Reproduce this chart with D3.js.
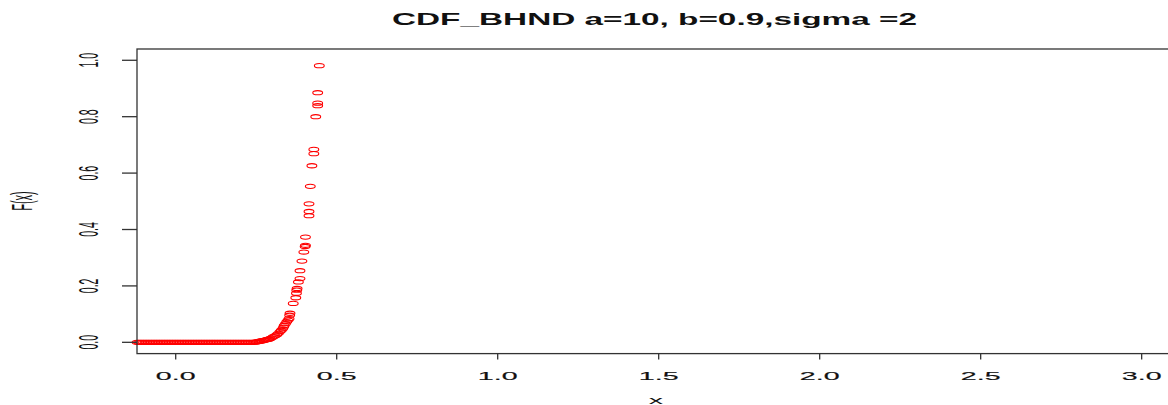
<!DOCTYPE html>
<html>
<head>
<meta charset="utf-8">
<script src="https://cdn.jsdelivr.net/npm/d3@7"></script>
<style>
  body { margin: 0; background: #fff; }
  text { font-family: "Liberation Sans", Arial, sans-serif; fill: #111; }
</style>
</head>
<body>
<svg id="chart" width="1168" height="405"></svg>
<script>
// values
const flatX = [-0.120, -0.115, -0.110, -0.105, -0.100, -0.095, -0.090, -0.085, -0.080,
  -0.075, -0.070, -0.065, -0.060, -0.055, -0.050, -0.045, -0.040, -0.035, -0.030,
  -0.025, -0.020, -0.015, -0.010, -0.005, 0.000, 0.005, 0.010, 0.015, 0.020, 0.025,
  0.030, 0.035, 0.040, 0.045, 0.050, 0.055, 0.060, 0.065, 0.070, 0.075, 0.080, 0.085,
  0.090, 0.095, 0.100, 0.105, 0.110, 0.115, 0.120, 0.125, 0.130, 0.135, 0.140, 0.145,
  0.150, 0.155, 0.160, 0.165, 0.170, 0.175, 0.180, 0.185, 0.190, 0.195, 0.200, 0.205,
  0.210, 0.215, 0.220, 0.225, 0.230, 0.235, 0.240];
const flatY = flatX.map(() => 0);

const curveX = [0.246, 0.250, 0.254, 0.258, 0.262, 0.266, 0.270, 0.274, 0.277, 0.281,
  0.285, 0.289, 0.293, 0.298, 0.303, 0.309, 0.314, 0.319, 0.324, 0.328, 0.332, 0.335,
  0.337, 0.341, 0.345, 0.349, 0.352, 0.354, 0.355, 0.365, 0.373, 0.375, 0.376, 0.377,
  0.381, 0.386, 0.386, 0.392, 0.398, 0.402, 0.403, 0.403, 0.414, 0.414, 0.414, 0.418,
  0.423, 0.429, 0.429, 0.435, 0.441, 0.441, 0.441, 0.446];
const curveY = [0.001, 0.001, 0.002, 0.003, 0.004, 0.005, 0.006, 0.007, 0.008, 0.009,
  0.010, 0.011, 0.013, 0.016, 0.020, 0.023, 0.027, 0.032, 0.038, 0.043, 0.048, 0.054,
  0.060, 0.066, 0.073, 0.079, 0.084, 0.096, 0.103, 0.138, 0.158, 0.174, 0.185, 0.191,
  0.214, 0.226, 0.254, 0.288, 0.320, 0.340, 0.344, 0.373, 0.449, 0.464, 0.491, 0.553,
  0.626, 0.669, 0.684, 0.800, 0.839, 0.848, 0.885, 0.981];

const xTicks = [0, 0.5, 1, 1.5, 2, 2.5, 3];
const yTicks = [0, 0.2, 0.4, 0.6, 0.8, 1.0];
const titleText = "CDF_BHND a=10, b=0.9,sigma =2";

const data = flatX.map((x, i) => ({x, y: flatY[i]}))
  .concat(curveX.map((x, i) => ({x, y: curveY[i]})));

const svg = d3.select("#chart");
const plotL = 137, plotR = 1170, plotT = 49, plotB = 353.6;
const sx = 2.6; // the picture is stretched sideways

const x = d3.scaleLinear().domain([-0.1202, 3.088]).range([plotL, plotR]);
const y = d3.scaleLinear().domain([-0.04, 1.04]).range([plotB, plotT]);

svg.append("rect").attr("width", 1168).attr("height", 405).attr("fill", "#fff");

// points
svg.append("g").selectAll("ellipse")
  .data(data)
  .enter().append("ellipse")
  .attr("cx", d => x(d.x))
  .attr("cy", d => y(d.y))
  .attr("rx", 4.9)
  .attr("ry", 2.1)
  .attr("fill", "none")
  .attr("stroke", "#ff0000")
  .attr("stroke-width", 1.1);

// box
svg.append("rect")
  .attr("x", plotL).attr("y", plotT)
  .attr("width", plotR - plotL).attr("height", plotB - plotT)
  .attr("fill", "none").attr("stroke", "#333").attr("stroke-width", 1.3);

// x axis
const xAxis = svg.append("g");
xAxis.selectAll("line").data(xTicks).enter().append("line")
  .attr("x1", d => x(d)).attr("x2", d => x(d))
  .attr("y1", plotB).attr("y2", plotB + 6)
  .attr("stroke", "#333").attr("stroke-width", 1.3);
xAxis.selectAll("g").data(xTicks).enter().append("g")
  .attr("transform", d => `translate(${x(d)},380) scale(${sx},1)`)
  .append("text")
  .attr("text-anchor", "middle")
  .attr("font-size", 11)
  .attr("stroke", "#111").attr("stroke-width", 0.15)
  .text(d => d.toFixed(1));

// y axis
const yAxis = svg.append("g");
yAxis.selectAll("line").data(yTicks).enter().append("line")
  .attr("x1", plotL - 15).attr("x2", plotL)
  .attr("y1", d => y(d)).attr("y2", d => y(d))
  .attr("stroke", "#333").attr("stroke-width", 1.3);
yAxis.selectAll("g").data(yTicks).enter().append("g")
  .attr("transform", d => `translate(98,${y(d)}) scale(${sx},1) rotate(-90)`)
  .append("text")
  .attr("text-anchor", "middle")
  .attr("font-size", 10.5)
  .text(d => d.toFixed(1));

// axis titles
svg.append("g")
  .attr("transform", `translate(656,403.5) scale(${sx},1)`)
  .append("text").attr("text-anchor", "middle").attr("font-size", 11).text("x");
svg.append("g")
  .attr("transform", `translate(32,201) scale(${sx},1) rotate(-90)`)
  .append("text").attr("text-anchor", "middle").attr("font-size", 11).text("F(x)");

// title
svg.append("text")
  .attr("x", 392).attr("y", 25)
  .attr("font-size", 17)
  .attr("font-weight", "bold")
  .attr("textLength", 525)
  .attr("lengthAdjust", "spacingAndGlyphs")
  .text(titleText);
</script>
</body>
</html>
